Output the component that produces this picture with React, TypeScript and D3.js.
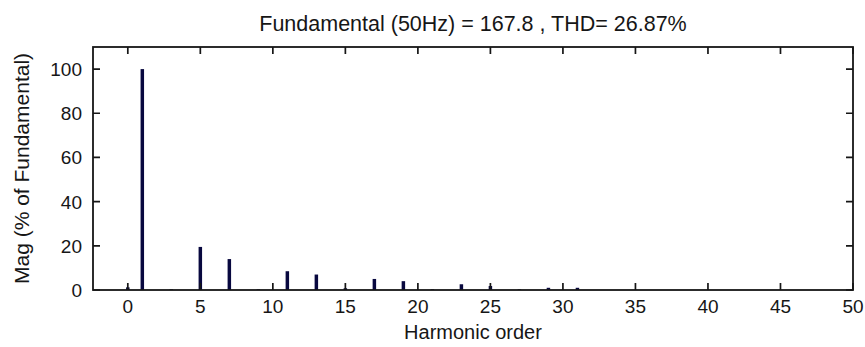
import React, { useEffect, useRef } from "react";
import * as d3 from "d3";

// harmonic order and magnitude (% of fundamental)
const harmonics = [0, 1, 3, 5, 7, 9, 11, 13, 15, 17, 19, 21, 23, 25, 27, 29, 31];
const magnitudes = [1.2, 100, 0.3, 19.5, 14, 0.3, 8.5, 7, 0.8, 5, 4, 0.3, 2.6, 1.8, 0.3, 1, 1];

const xTicks = [0, 5, 10, 15, 20, 25, 30, 35, 40, 45, 50];
const yTicks = [0, 20, 40, 60, 80, 100];

const titleText = "Fundamental (50Hz) = 167.8 , THD= 26.87%";

const W = 865;
const H = 347;
const margin = { top: 47, right: 12, bottom: 57, left: 93 };

export default function App() {
  const ref = useRef<SVGSVGElement>(null);

  useEffect(() => {
    const svg = d3.select(ref.current);
    svg.selectAll("*").remove();

    const font = "'Liberation Sans', Arial, sans-serif";
    const ink = "#161616";
    const barColor = "#08083f";

    const x = d3.scaleLinear().domain([-2.4, 50]).range([margin.left, W - margin.right]);
    const y = d3.scaleLinear().domain([0, 110]).range([H - margin.bottom, margin.top]);

    const x0 = margin.left, x1 = W - margin.right;
    const y0 = H - margin.bottom, y1 = margin.top;

    // bars
    const bw = x(0.24) - x(0);
    svg.append("g")
      .selectAll("rect")
      .data(harmonics.map((h, i) => ({ h, v: magnitudes[i] })))
      .join("rect")
      .attr("x", d => x(d.h) - bw / 2)
      .attr("y", d => y(d.v))
      .attr("width", bw)
      .attr("height", d => y(0) - y(d.v))
      .attr("fill", barColor);

    // inward ticks on all four sides (MATLAB style)
    const tickLen = 7;
    const tickPath = d3.path();
    xTicks.forEach(t => {
      tickPath.moveTo(x(t), y0); tickPath.lineTo(x(t), y0 - tickLen);
      tickPath.moveTo(x(t), y1); tickPath.lineTo(x(t), y1 + tickLen);
    });
    yTicks.forEach(t => {
      tickPath.moveTo(x0, y(t)); tickPath.lineTo(x0 + tickLen, y(t));
      tickPath.moveTo(x1, y(t)); tickPath.lineTo(x1 - tickLen, y(t));
    });
    svg.append("path")
      .attr("d", tickPath.toString())
      .attr("fill", "none")
      .attr("stroke", ink)
      .attr("stroke-width", 1.7);

    // box
    svg.append("rect")
      .attr("x", x0).attr("y", y1)
      .attr("width", x1 - x0).attr("height", y0 - y1)
      .attr("fill", "none").attr("stroke", ink).attr("stroke-width", 1.8);

    // tick labels
    svg.append("g")
      .selectAll("text")
      .data(xTicks)
      .join("text")
      .attr("x", d => x(d))
      .attr("y", y0 + 23)
      .attr("text-anchor", "middle")
      .attr("font-family", font)
      .attr("font-size", 19)
      .attr("fill", ink)
      .text(d => d);

    svg.append("g")
      .selectAll("text")
      .data(yTicks)
      .join("text")
      .attr("x", x0 - 11)
      .attr("y", d => y(d) + 7)
      .attr("text-anchor", "end")
      .attr("font-family", font)
      .attr("font-size", 19)
      .attr("fill", ink)
      .text(d => d);

    // titles
    svg.append("text")
      .attr("x", (x0 + x1) / 2)
      .attr("y", 31)
      .attr("text-anchor", "middle")
      .attr("font-family", font)
      .attr("font-size", 21.5)
      .attr("fill", ink)
      .text(titleText);

    svg.append("text")
      .attr("x", (x0 + x1) / 2)
      .attr("y", 339)
      .attr("text-anchor", "middle")
      .attr("font-family", font)
      .attr("font-size", 20)
      .attr("fill", ink)
      .text("Harmonic order");

    svg.append("text")
      .attr("transform", `translate(29, ${(y0 + y1) / 2}) rotate(-90)`)
      .attr("text-anchor", "middle")
      .attr("font-family", font)
      .attr("font-size", 21)
      .attr("fill", ink)
      .text("Mag (% of Fundamental)");
  }, []);

  return (
    <svg ref={ref} width={W} height={H}
      style={{ position: "absolute", left: 0, top: 0, background: "#fff" }} />
  );
}
